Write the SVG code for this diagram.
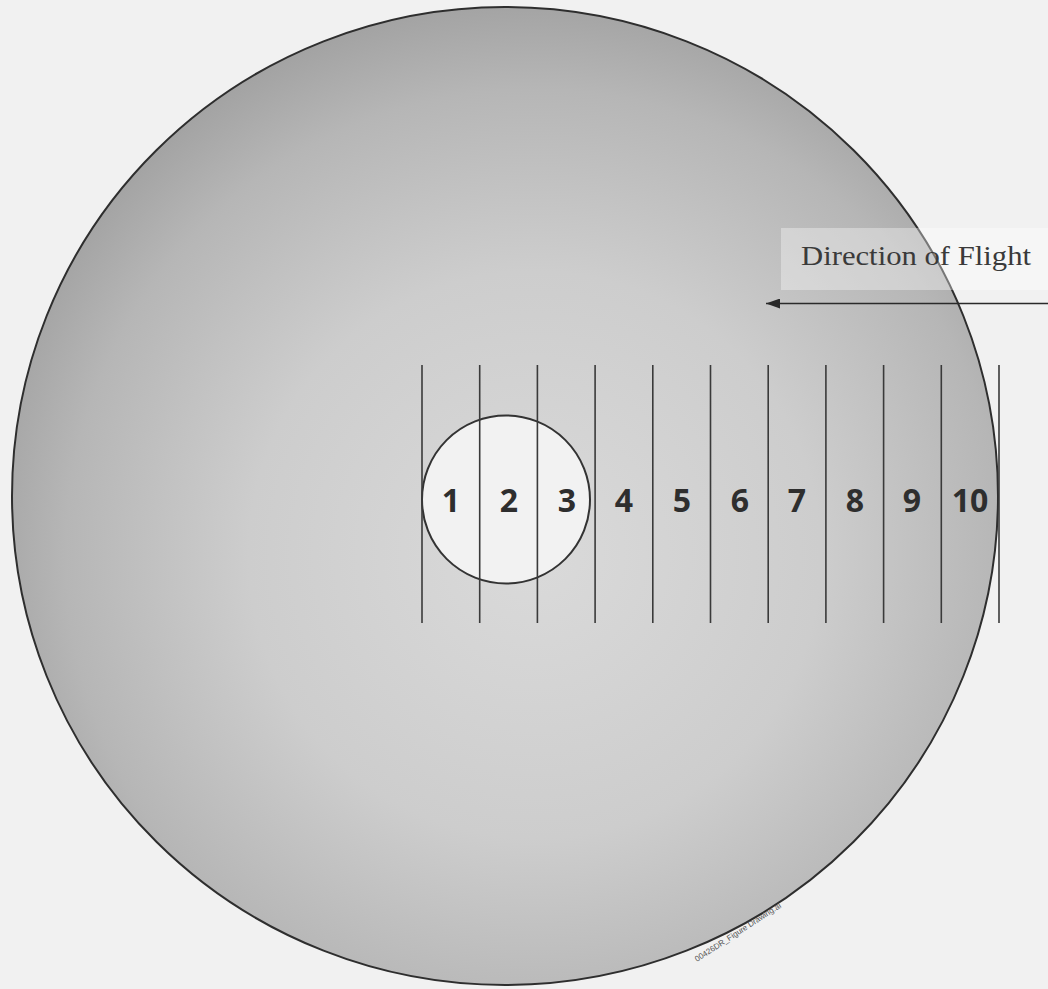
<svg xmlns="http://www.w3.org/2000/svg" width="1048" height="989" viewBox="0 0 1048 989">
<style>
.num{font-family:"Open Sans","Noto Sans","DejaVu Sans",sans-serif;font-weight:bold;font-size:32px;fill:#2e2e2e;text-anchor:middle}
.div{stroke:#3a3a3a;stroke-width:1.6}
.lbl{font-family:"Liberation Serif","Times New Roman",serif;font-size:27px;fill:#3a3a3a}
</style>
<defs>
<radialGradient id="disc" cx="0.53" cy="0.56" r="0.58">
<stop offset="0" stop-color="#dadada"/>
<stop offset="0.5" stop-color="#cdcdcd"/>
<stop offset="0.82" stop-color="#b6b6b6"/>
<stop offset="1" stop-color="#a0a0a0"/>
</radialGradient>
<marker id="arrow" markerWidth="14" markerHeight="10" refX="14" refY="5" orient="auto" markerUnits="userSpaceOnUse">
<path d="M0,0 L14,5 L0,10 Z" fill="#2a2a2a"/>
</marker>
</defs>
<rect width="1048" height="989" fill="#f1f1f1"/>
<g id="disc-node">
<ellipse cx="505" cy="496" rx="493" ry="489" fill="url(#disc)" stroke="#2e2e2e" stroke-width="2"/>
</g>
<g id="label">
<rect x="781" y="228" width="267" height="62" fill="#ffffff" opacity="0.35"/>
<text class="lbl" x="801" y="265" textLength="230" lengthAdjust="spacingAndGlyphs">Direction of Flight</text>
</g>
<g id="connectors">
<line x1="1048" y1="303.5" x2="766" y2="303.5" stroke="#2a2a2a" stroke-width="1.6" marker-end="url(#arrow)"/>
</g>
<g id="spot">
<circle cx="506" cy="499.5" r="84" fill="#f2f2f2" stroke="#333" stroke-width="2"/>
</g>
<g id="dividers">
<line class="div" x1="422" y1="365" x2="422" y2="623"/>
<line class="div" x1="479.7" y1="365" x2="479.7" y2="623"/>
<line class="div" x1="537.4" y1="365" x2="537.4" y2="623"/>
<line class="div" x1="595.1" y1="365" x2="595.1" y2="623"/>
<line class="div" x1="652.8" y1="365" x2="652.8" y2="623"/>
<line class="div" x1="710.5" y1="365" x2="710.5" y2="623"/>
<line class="div" x1="768.2" y1="365" x2="768.2" y2="623"/>
<line class="div" x1="825.9" y1="365" x2="825.9" y2="623"/>
<line class="div" x1="883.6" y1="365" x2="883.6" y2="623"/>
<line class="div" x1="941.3" y1="365" x2="941.3" y2="623"/>
<line class="div" x1="999" y1="365" x2="999" y2="623"/>
</g>
<g id="numbers">
<text class="num" x="451" y="512">1</text>
<text class="num" x="509" y="512">2</text>
<text class="num" x="567" y="512">3</text>
<text class="num" x="624" y="512">4</text>
<text class="num" x="682" y="512">5</text>
<text class="num" x="740" y="512">6</text>
<text class="num" x="797" y="512">7</text>
<text class="num" x="855" y="512">8</text>
<text class="num" x="912" y="512">9</text>
<text class="num" x="970" y="512">10</text>
</g>
<g id="watermark">
<text x="0" y="0" transform="translate(697,962) rotate(-33)" font-family="Liberation Sans,Arial,sans-serif" font-size="8" fill="#555">00426DR_Figure Drawing.ai</text>
</g>
</svg>
